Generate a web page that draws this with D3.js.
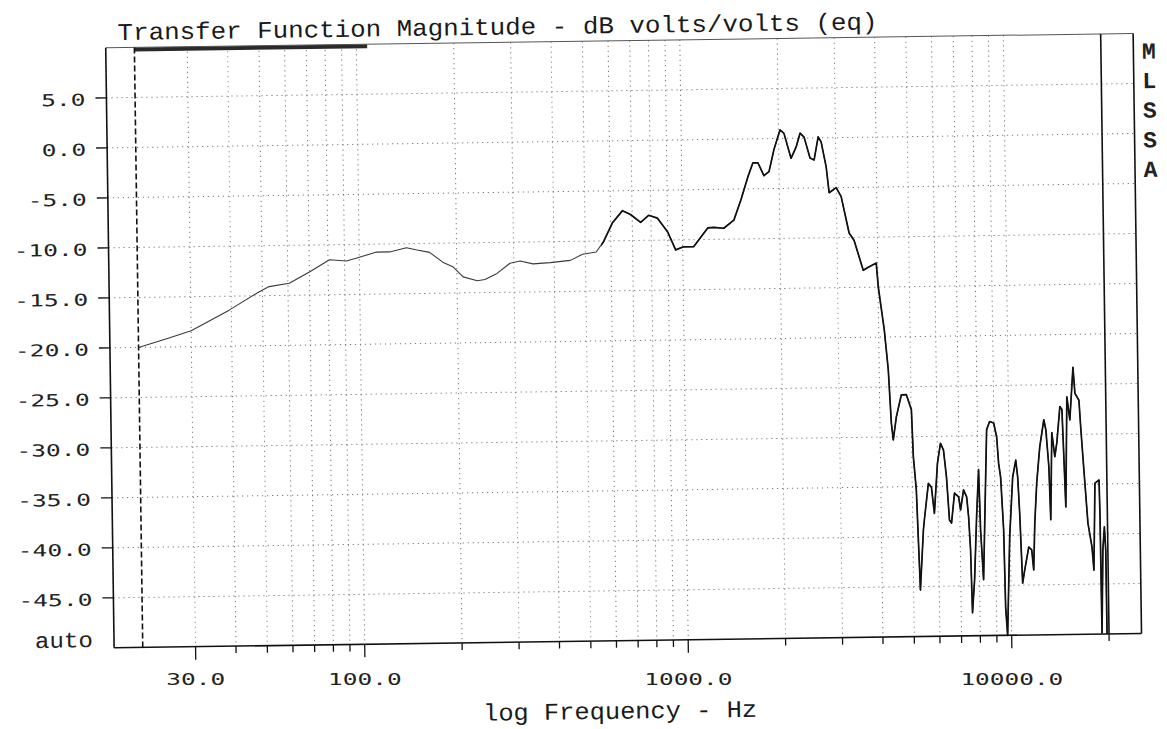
<!DOCTYPE html>
<html><head><meta charset="utf-8">
<script src="https://cdn.jsdelivr.net/npm/d3@7"></script>
<style>
html,body{margin:0;padding:0;background:#fff;}
svg{display:block;}
</style></head><body>
<svg id="chart" width="1167" height="729"></svg>
<script>
// ---- data ----
const freqHz = [
  20.6, 25.6, 30.0, 39.4, 48.9, 52.5, 60.6, 70.0, 80.9, 91.3,
  100, 113, 124, 140, 151, 165, 181, 195, 209, 231,
  244, 266, 292, 314, 344, 389, 449, 490, 540, 569,
  608, 654, 692, 743, 787, 838, 900, 951, 1006, 1081,
  1197, 1249, 1342, 1443, 1520, 1601, 1662, 1722, 1795, 1862,
  1933, 2022, 2079, 2181, 2263, 2332, 2398, 2497, 2570, 2651,
  2706, 2798, 2851, 2999, 3104, 3273, 3389, 3606, 3739, 3958,
  4007, 4164, 4267, 4338, 4391, 4498, 4671, 4840, 5009, 5056,
  5147, 5221, 5248, 5392, 5434, 5612, 5734, 5841, 5998, 6141,
  6270, 6388, 6498, 6592, 6753, 6950, 7039, 7203, 7359, 7448,
  7528, 7586, 7724, 7884, 8032, 8100, 8235, 8540, 8731, 8983,
  9166, 9270, 9391, 9546, 9608, 9719, 9957, 10230, 10475, 10603,
  10717, 10872, 11044, 11395, 11634, 11777, 11922, 12134, 12442, 12840,
  13016, 13251, 13364, 13575, 13840, 14059, 14415, 14622, 14757, 14894,
  15164, 15457, 15883, 16066, 16519, 16707, 16998, 17402, 17870, 18077,
  18363, 18908, 18973, 19030, 19300, 19550, 19700, 19720
];
const magDb = [
  -20.0, -19.1, -18.4, -16.4, -14.6, -14.1, -13.8, -12.7, -11.5, -11.65,
  -11.3, -10.8, -10.8, -10.4, -10.65, -10.9, -11.9, -12.4, -13.4, -13.8,
  -13.7, -13.1, -12.1, -11.9, -12.2, -12.1, -11.9, -11.3, -11.1, -10.1,
  -8.2, -7.0, -7.4, -8.2, -7.5, -7.8, -9.2, -11.0, -10.7, -10.7,
  -8.85, -8.8, -8.9, -8.1, -6.1, -3.8, -2.4, -2.4, -3.7, -3.3,
  -1.1, 0.85, 0.5, -2.0, -0.9, 0.5, 0.1, -2.0, -2.2, 0.1,
  -0.4, -2.9, -5.5, -5.0, -5.9, -9.55, -10.3, -13.3, -13.0, -12.6,
  -15.0, -19.3, -23.3, -28.6, -30.3, -28.0, -25.8, -25.8, -27.3, -32.0,
  -35.3, -42.65, -45.35, -39.35, -38.35, -34.7, -35.1, -37.7, -32.7, -30.7,
  -31.4, -34.1, -38.4, -38.7, -35.7, -36.1, -37.4, -35.4, -36.1, -38.1,
  -41.4, -47.7, -44.4, -38.1, -33.4, -39.4, -44.4, -29.4, -28.6, -28.75,
  -30.15, -32.8, -34.2, -39.5, -47.2, -50.0, -40.2, -34.2, -32.5, -34.2,
  -37.8, -44.8, -43.5, -41.2, -41.5, -43.5, -38.8, -34.8, -31.2, -28.5,
  -29.5, -33.2, -38.5, -29.8, -32.2, -30.8, -27.2, -27.5, -32.25, -37.25,
  -26.25, -28.55, -23.3, -25.9, -26.6, -29.6, -33.6, -38.9, -41.3, -43.6,
  -34.9, -34.6, -37.9, -49.9, -41.6, -39.3, -41.6, -50.0
];
const yTickValues = [5, 0, -5, -10, -15, -20, -25, -30, -35, -40, -45];
const yTickLabels = ["5.0", "0.0", "-5.0", "-10.0", "-15.0", "-20.0", "-25.0", "-30.0", "-35.0", "-40.0", "-45.0"];
const yBottomLabel = "auto";
const xMajorTicks = [30, 100, 1000, 10000];
const xMajorLabels = ["30.0", "100.0", "1000.0", "10000.0"];
const xMinorTicks = [40, 50, 60, 70, 80, 90, 200, 300, 400, 500, 600, 700, 800, 900,
                     2000, 3000, 4000, 5000, 6000, 7000, 8000, 9000, 20000];
const xGridValues = [30, 40, 50, 60, 70, 80, 90, 100, 200, 300, 400, 500, 600, 700, 800, 900,
                     1000, 2000, 3000, 4000, 5000, 6000, 7000, 8000, 9000, 10000];
const sideLetters = ["M", "L", "S", "S", "A"];
const titleText = "Transfer Function Magnitude - dB volts/volts (eq)";
const xAxisTitle = "log Frequency - Hz";
const startMarkerHz = 20.6;
const endMarkerHz = 20000;
const bandHz = [20.6, 108];
const xDomainHz = [16.8, 25200];
const yDomainDb = [-50, 10];
const heavyFromHz = 560;

// ---- layout ----
const L = 110, R = 1137.5, T = 40.7, B = 640.7;
const ROT = -0.8, CX = 620, CY = 350;
const svg = d3.select("#chart");
svg.append("rect").attr("width", 1167).attr("height", 729).attr("fill", "#ffffff");
const g = svg.append("g").attr("transform", `rotate(${ROT},${CX},${CY})`);
const rad = ROT * Math.PI / 180;
function rotPt(u, v) {
  return [CX + (u - CX) * Math.cos(rad) - (v - CY) * Math.sin(rad),
          CY + (u - CX) * Math.sin(rad) + (v - CY) * Math.cos(rad)];
}

const x = d3.scaleLog().domain(xDomainHz).range([L, R]);
const y = d3.scaleLinear().domain(yDomainDb).range([B, T]);

// grid
g.append("g").selectAll("line").data(yTickValues).join("line")
  .attr("x1", L).attr("x2", R)
  .attr("y1", d => y(d)).attr("y2", d => y(d))
  .attr("stroke", "#777").attr("stroke-width", 1).attr("stroke-dasharray", "1.2,3.8");
g.append("g").selectAll("line").data(xGridValues).join("line")
  .attr("x1", d => x(d)).attr("x2", d => x(d))
  .attr("y1", T).attr("y2", B)
  .attr("stroke", "#777").attr("stroke-width", 1).attr("stroke-dasharray", "1.2,3.8");

// band on top
g.append("rect").attr("x", x(bandHz[0])).attr("width", x(bandHz[1]) - x(bandHz[0]))
  .attr("y", T).attr("height", 4).attr("fill", "#2a2a2a");

// frame
g.append("line").attr("x1", L).attr("x2", R).attr("y1", T).attr("y2", T).attr("stroke", "#555").attr("stroke-width", 1);
g.append("line").attr("x1", L).attr("x2", L).attr("y1", T).attr("y2", B).attr("stroke", "#111").attr("stroke-width", 1.6);
g.append("line").attr("x1", R).attr("x2", R).attr("y1", T).attr("y2", B).attr("stroke", "#111").attr("stroke-width", 1.6);
g.append("line").attr("x1", L).attr("x2", R).attr("y1", B).attr("y2", B).attr("stroke", "#111").attr("stroke-width", 1.6);

// markers
g.append("line").attr("x1", x(startMarkerHz)).attr("x2", x(startMarkerHz)).attr("y1", T).attr("y2", B)
  .attr("stroke", "#111").attr("stroke-width", 1.6).attr("stroke-dasharray", "6,3");
g.append("line").attr("x1", x(endMarkerHz)).attr("x2", x(endMarkerHz)).attr("y1", T).attr("y2", B)
  .attr("stroke", "#111").attr("stroke-width", 1.6);

// ticks
g.append("g").selectAll("line").data(yTickValues).join("line")
  .attr("x1", L - 11).attr("x2", L).attr("y1", d => y(d)).attr("y2", d => y(d))
  .attr("stroke", "#111").attr("stroke-width", 1.3);
g.append("g").selectAll("line").data(xMajorTicks).join("line")
  .attr("x1", d => x(d)).attr("x2", d => x(d)).attr("y1", B).attr("y2", B + 13)
  .attr("stroke", "#111").attr("stroke-width", 1.3);
g.append("g").selectAll("line").data(xMinorTicks).join("line")
  .attr("x1", d => x(d)).attr("x2", d => x(d)).attr("y1", B).attr("y2", B + 7)
  .attr("stroke", "#111").attr("stroke-width", 1.3);

// tick labels
const tickFont = "'DejaVu Sans Mono', monospace";
g.append("g").selectAll("text").data(yTickValues).join("text")
  .attr("x", L - 21).attr("y", d => y(d) + 7.5)
  .attr("text-anchor", "end")
  .attr("font-family", tickFont).attr("font-size", 16.5).attr("fill", "#222")
  .attr("textLength", (d, i) => yTickLabels[i].length * 14.8)
  .attr("lengthAdjust", "spacingAndGlyphs")
  .text((d, i) => yTickLabels[i]);
g.append("text").attr("x", L - 21).attr("y", y(-50) - 1)
  .attr("text-anchor", "end")
  .attr("font-family", "'Liberation Mono', monospace").attr("font-size", 22).attr("fill", "#222")
  .attr("textLength", 58).attr("lengthAdjust", "spacingAndGlyphs")
  .text(yBottomLabel);
// x tick labels sit level on the page (not tilted with the plot)
svg.append("g").selectAll("text").data(xMajorTicks).join("text")
  .attr("x", d => rotPt(x(d), B + 13)[0]).attr("y", 685)
  .attr("text-anchor", "middle")
  .attr("font-family", tickFont).attr("font-size", 16.5).attr("fill", "#222")
  .attr("textLength", (d, i) => xMajorLabels[i].length * 14.7)
  .attr("lengthAdjust", "spacingAndGlyphs")
  .text((d, i) => xMajorLabels[i]);

// titles
g.append("text").attr("x", 122).attr("y", 33)
  .attr("font-family", "'Liberation Mono', monospace").attr("font-size", 24).attr("fill", "#1a1a1a")
  .attr("textLength", 760).attr("lengthAdjust", "spacingAndGlyphs")
  .text(titleText);
g.append("text").attr("x", 615).attr("y", 718.7).attr("text-anchor", "middle")
  .attr("font-family", "'Liberation Mono', monospace").attr("font-size", 24).attr("fill", "#1a1a1a")
  .attr("textLength", 274).attr("lengthAdjust", "spacingAndGlyphs")
  .text(xAxisTitle);

// side letters
g.append("g").selectAll("text").data(sideLetters).join("text")
  .attr("x", 1153).attr("y", (d, i) => 66 + i * 29.6)
  .attr("text-anchor", "middle")
  .attr("font-family", "'Liberation Mono', monospace").attr("font-size", 23).attr("font-weight", "bold")
  .attr("fill", "#222")
  .text(d => d);

// trace
const pts = freqHz.map((f, i) => ({f: f, db: magDb[i]}));
const line = d3.line().x(d => x(d.f)).y(d => y(d.db));
g.append("clipPath").attr("id", "heavy")
  .append("rect").attr("x", x(heavyFromHz)).attr("y", T - 5)
  .attr("width", R - x(heavyFromHz)).attr("height", B - T + 10);
g.append("path").datum(pts).attr("d", line)
  .attr("fill", "none").attr("stroke", "#3a3a3a").attr("stroke-width", 1.1)
  .attr("stroke-linejoin", "round");
g.append("path").datum(pts).attr("d", line)
  .attr("clip-path", "url(#heavy)")
  .attr("fill", "none").attr("stroke", "#111").attr("stroke-width", 1.7)
  .attr("stroke-linejoin", "round");
</script>
</body></html>
